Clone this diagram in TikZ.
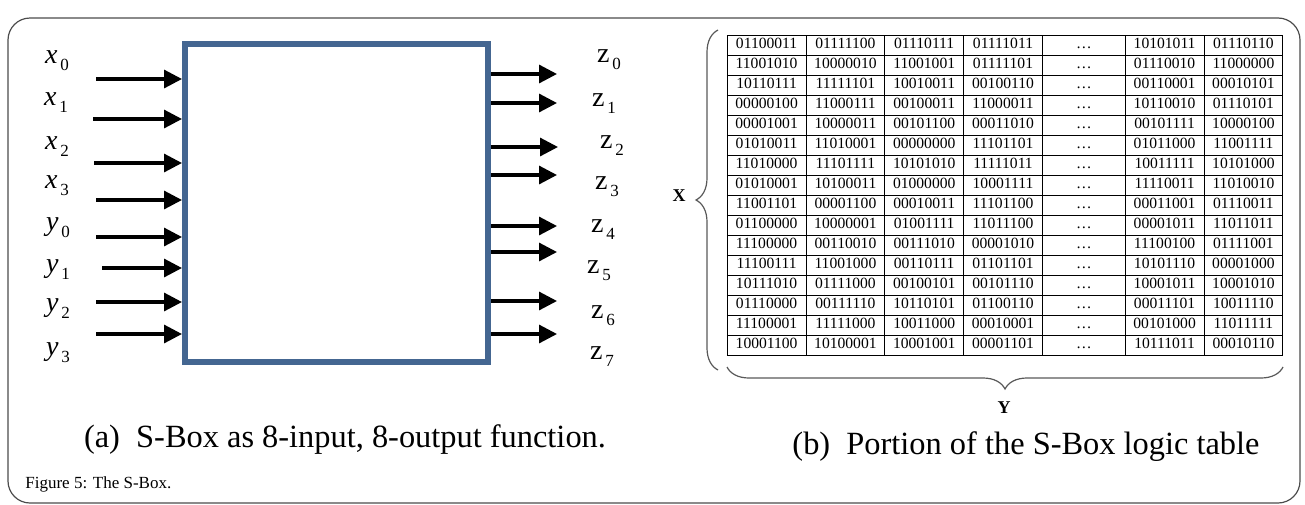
\documentclass[tikz,border=0pt]{standalone}
\usepackage{fontspec}
\setmainfont{Liberation Serif}
\usepackage{array}
\usetikzlibrary{arrows.meta,calc,positioning,decorations.pathreplacing}
\definecolor{sboxblue}{RGB}{68,102,145}
\newcolumntype{C}[1]{>{\centering\arraybackslash}p{#1}}
\newcommand{\insig}[2]{\textit{#1}\raisebox{-0.55ex}{\fontsize{8.5}{8.5}\selectfont\,#2}}
\newcommand{\outsig}[2]{#1\raisebox{-0.55ex}{\fontsize{8.5}{8.5}\selectfont\,#2}}
\tikzset{
    sboxnode/.style={
        rectangle,
        draw=sboxblue,
        line width=3pt,
        minimum width=151.5pt,
        minimum height=159pt,
        inner sep=0pt
    },
    sigarrow/.style={
        -{Triangle[length=9pt,width=9pt]},
        line width=1.6pt
    },
    siglabel/.style={
        font=\fontsize{14}{14}\selectfont,
        inner sep=0pt
    },
    bracebar/.style={
        decorate,
        decoration={brace, amplitude=11pt},
        draw=gray!70!black,
        line width=0.6pt
    },
    axislabel/.style={
        font=\fontsize{9}{9}\selectfont\bfseries,
        inner sep=0pt
    },
    captiontext/.style={
        font=\fontsize{16.2}{16.2}\selectfont,
        inner sep=0pt
    },
    logictable/.style={
        inner sep=0pt,
        font=\fontsize{7.8}{9.6}\selectfont
    },
    framebox/.style={
        draw=gray!60!black,
        line width=0.6pt,
        rounded corners=11pt
    }
}

\begin{document}
\begin{tikzpicture}[x=0.5pt, y=-0.5pt]
    \useasboundingbox (0,0) rectangle (1305,504);
    \draw[framebox] (8,18) rectangle (1300,503);

    % (a) the S-Box as a block
    \node[sboxnode] (sbox) at (336.5,203) {};

    \node[siglabel] (lx0) at (57,61)  {\insig{x}{0}};
    \node[siglabel] (lx1) at (56,103) {\insig{x}{1}};
    \node[siglabel] (lx2) at (57,147) {\insig{x}{2}};
    \node[siglabel] (lx3) at (57,186) {\insig{x}{3}};
    \node[siglabel] (ly0) at (58,228) {\insig{y}{0}};
    \node[siglabel] (ly1) at (58,270) {\insig{y}{1}};
    \node[siglabel] (ly2) at (58,309) {\insig{y}{2}};
    \node[siglabel] (ly3) at (58,353) {\insig{y}{3}};

    \coordinate (in0) at (96,79);
    \coordinate (in1) at (93,119);
    \coordinate (in2) at (94,163);
    \coordinate (in3) at (96,200);
    \coordinate (in4) at (96,237);
    \coordinate (in5) at (102,268);
    \coordinate (in6) at (96,302);
    \coordinate (in7) at (96,334);

    \draw[sigarrow] (in0) -- (in0 -| sbox.west);
    \draw[sigarrow] (in1) -- (in1 -| sbox.west);
    \draw[sigarrow] (in2) -- (in2 -| sbox.west);
    \draw[sigarrow] (in3) -- (in3 -| sbox.west);
    \draw[sigarrow] (in4) -- (in4 -| sbox.west);
    \draw[sigarrow] (in5) -- (in5 -| sbox.west);
    \draw[sigarrow] (in6) -- (in6 -| sbox.west);
    \draw[sigarrow] (in7) -- (in7 -| sbox.west);

    \coordinate (out0) at (557,74);
    \coordinate (out1) at (557,103);
    \coordinate (out2) at (558,147);
    \coordinate (out3) at (557,175);
    \coordinate (out4) at (557,226);
    \coordinate (out5) at (557,252);
    \coordinate (out6) at (557,301);
    \coordinate (out7) at (557,334);

    \draw[sigarrow] (out0 -| sbox.east) -- (out0);
    \draw[sigarrow] (out1 -| sbox.east) -- (out1);
    \draw[sigarrow] (out2 -| sbox.east) -- (out2);
    \draw[sigarrow] (out3 -| sbox.east) -- (out3);
    \draw[sigarrow] (out4 -| sbox.east) -- (out4);
    \draw[sigarrow] (out5 -| sbox.east) -- (out5);
    \draw[sigarrow] (out6 -| sbox.east) -- (out6);
    \draw[sigarrow] (out7 -| sbox.east) -- (out7);

    \node[siglabel] (lz0) at (609,60)  {\outsig{z}{0}};
    \node[siglabel] (lz1) at (604,104) {\outsig{z}{1}};
    \node[siglabel] (lz2) at (612,146) {\outsig{z}{2}};
    \node[siglabel] (lz3) at (607,187) {\outsig{z}{3}};
    \node[siglabel] (lz4) at (603,230) {\outsig{z}{4}};
    \node[siglabel] (lz5) at (599,271) {\outsig{z}{5}};
    \node[siglabel] (lz6) at (603,316) {\outsig{z}{6}};
    \node[siglabel] (lz7) at (602,357) {\outsig{z}{7}};

    \node[captiontext] (capa) at (345,440) {(a)\ \ S-Box as 8-input, 8-output function.};

    % (b) part of the logic table
    \setlength{\tabcolsep}{0pt}
    \node[logictable] (ltable) at (1005,195) {%
        \begin{tabular}{|C{39pt}|C{39pt}|C{39pt}|C{39pt}|C{41pt}|C{39pt}|C{39pt}|}
        \hline
        01100011 & 01111100 & 01110111 & 01111011 & \dots & 10101011 & 01110110 \\ \hline
        11001010 & 10000010 & 11001001 & 01111101 & \dots & 01110010 & 11000000 \\ \hline
        10110111 & 11111101 & 10010011 & 00100110 & \dots & 00110001 & 00010101 \\ \hline
        00000100 & 11000111 & 00100011 & 11000011 & \dots & 10110010 & 01110101 \\ \hline
        00001001 & 10000011 & 00101100 & 00011010 & \dots & 00101111 & 10000100 \\ \hline
        01010011 & 11010001 & 00000000 & 11101101 & \dots & 01011000 & 11001111 \\ \hline
        11010000 & 11101111 & 10101010 & 11111011 & \dots & 10011111 & 10101000 \\ \hline
        01010001 & 10100011 & 01000000 & 10001111 & \dots & 11110011 & 11010010 \\ \hline
        11001101 & 00001100 & 00010011 & 11101100 & \dots & 00011001 & 01110011 \\ \hline
        01100000 & 10000001 & 01001111 & 11011100 & \dots & 00001011 & 11011011 \\ \hline
        11100000 & 00110010 & 00111010 & 00001010 & \dots & 11100100 & 01111001 \\ \hline
        11100111 & 11001000 & 00110111 & 01101101 & \dots & 10101110 & 00001000 \\ \hline
        10111010 & 01111000 & 00100101 & 00101110 & \dots & 10001011 & 10001010 \\ \hline
        01110000 & 00111110 & 10110101 & 01100110 & \dots & 00011101 & 10011110 \\ \hline
        11100001 & 11111000 & 10011000 & 00010001 & \dots & 00101000 & 11011111 \\ \hline
        10001100 & 10100001 & 10001001 & 00001101 & \dots & 10111011 & 00010110 \\ \hline
        \end{tabular}};

    \coordinate (xtop) at (718,30);
    \coordinate (xbot) at (718,370);
    \draw[bracebar] (xbot) -- (xtop);
    \node[axislabel] (xlabel) at (679,196) {X};

    \coordinate (yleft)  at (727,367);
    \coordinate (yright) at (1283,367);
    \draw[bracebar] (yright) -- (yleft);
    \node[axislabel] (ylabel) at (1004,408) {Y};

    \node[captiontext] (capb) at (1026,447) {(b)\ \ Portion of the S-Box logic table};

    \node[font=\fontsize{8.5}{8.5}\selectfont, inner sep=0pt, anchor=west] (figcap) at (25,484) {Figure 5: The S-Box.};
\end{tikzpicture}
\end{document}
